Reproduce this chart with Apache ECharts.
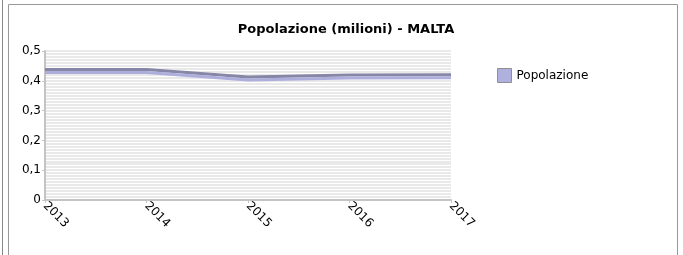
<!DOCTYPE html>
<html>
<head>
<meta charset="utf-8">
<script src="https://cdn.jsdelivr.net/npm/echarts@6/dist/echarts.min.js"></script>
<style>
  html, body { margin: 0; padding: 0; background: #fff; }
  #chart { width: 683px; height: 255px; }
</style>
</head>
<body>
<div id="chart"></div>
<script>
const YEARS = [2013, 2014, 2015, 2016, 2017]
const POPOLAZIONE = [0.428, 0.428, 0.403, 0.409, 0.41]
const SERIES_NAME = 'Popolazione'

const chart = echarts.init(document.getElementById('chart'))
const comma = v => String(v).replace('.', ',')

let option = {
    backgroundColor: '#fff',
    animation: false,
    textStyle: { fontFamily: 'DejaVu Sans' },
    title: {
        text: 'Popolazione (milioni) - MALTA',
        left: 341,
        textAlign: 'center',
        top: 18,
        textStyle: { fontSize: 13, fontWeight: 'bold', color: '#000', fontFamily: 'DejaVu Sans' }
    },
    legend: {
        left: 492,
        top: 63,
        itemWidth: 14,
        itemHeight: 14,
        itemGap: 4,
        icon: 'rect',
        textStyle: { fontSize: 12, color: '#000', fontFamily: 'DejaVu Sans' },
        itemStyle: { color: '#b0b0de', borderColor: '#909090', borderWidth: 1 },
        data: [SERIES_NAME]
    },
    grid: {
        left: 45,
        right: 232,
        top: 51,
        bottom: 55
    },
    xAxis: {
        type: 'value',
        min: YEARS[0],
        max: YEARS[YEARS.length - 1],
        interval: 1,
        axisLine: { lineStyle: { color: '#c4c4c4', width: 2 } },
        axisTick: { length: 3, lineStyle: { color: '#c4c4c4' } },
        splitLine: { show: false },
        axisLabel: {
            rotate: -45,
            fontSize: 12,
            color: '#000',
            margin: 4,
            formatter: v => String(v)
        }
    },
    yAxis: {
        type: 'value',
        min: 0,
        max: 0.5,
        interval: 0.1,
        axisLine: { show: true, lineStyle: { color: '#c4c4c4', width: 2 } },
        axisTick: { show: true, length: 3, lineStyle: { color: '#c4c4c4' } },
        splitLine: { show: true, lineStyle: { color: '#e2e2e2', width: 1.5 } },
        minorTick: { show: false, splitNumber: 10 },
        minorSplitLine: { show: true, lineStyle: { color: '#e2e2e2', width: 1.5 } },
        axisLabel: { fontSize: 12, color: '#000', margin: 4, formatter: comma }
    },
    series: [{
        name: SERIES_NAME,
        type: 'line',
        showSymbol: false,
        data: YEARS.map((y, i) => [y, POPOLAZIONE[i]]),
        itemStyle: { color: '#b0b0de' },
        lineStyle: {
            color: '#aeaedc',
            width: 3,
            shadowColor: '#8686a6',
            shadowBlur: 0,
            shadowOffsetY: -3
        }
    }],
    graphic: [
        { type: 'line', shape: { x1: 2.5, y1: 0, x2: 2.5, y2: 255 }, style: { stroke: '#888', lineWidth: 1 } },
        { type: 'polyline', shape: { points: [[8.5, 255], [8.5, 4.5], [677.5, 4.5], [677.5, 255]] }, style: { stroke: '#999', lineWidth: 1, fill: null } }
    ]
}
chart.setOption(option)
</script>
</body>
</html>
